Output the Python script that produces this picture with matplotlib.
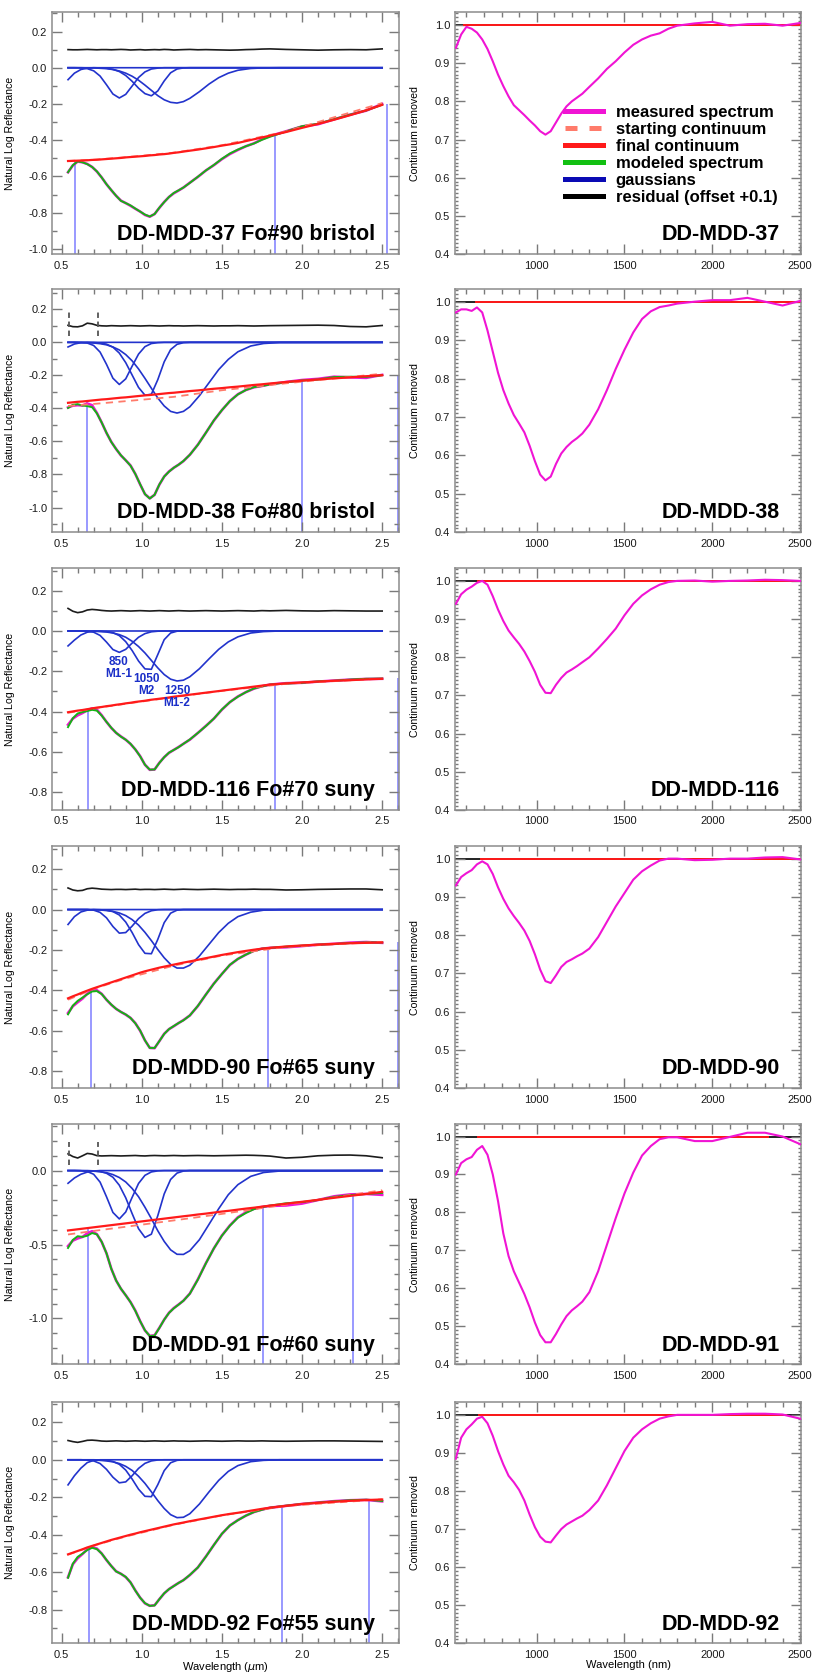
import numpy as np
import matplotlib
matplotlib.use("Agg")
import matplotlib.pyplot as plt
from matplotlib.lines import Line2D
from matplotlib.ticker import MultipleLocator, FuncFormatter

plt.rcParams["font.family"] = ["Liberation Sans", "DejaVu Sans"]
plt.rcParams["axes.unicode_minus"] = False

# ---- wavelength grids (micron) ----
wl = [0.54, 0.57, 0.60, 0.63, 0.66, 0.69, 0.72, 0.75, 0.78, 0.81, 0.84, 0.87, 0.90, 0.93, 0.96,
      0.99, 1.02, 1.05, 1.08, 1.11, 1.14, 1.17, 1.20, 1.23, 1.26, 1.30, 1.35, 1.40, 1.45, 1.50,
      1.55, 1.60, 1.65, 1.70, 1.75, 1.80, 1.90, 2.00, 2.10, 2.20, 2.30, 2.40, 2.50]
wl_band = [0.54, 0.58, 0.62, 0.66, 0.70, 0.74, 0.78, 0.82, 0.86, 0.90, 0.94, 0.98, 1.02, 1.06,
           1.10, 1.14, 1.18, 1.22, 1.26, 1.30, 1.36, 1.42, 1.48, 1.54, 1.60, 1.68, 1.76, 1.86, 2.50]
wl_start = [0.54, 0.7, 0.9, 1.2, 1.5, 1.9, 2.5]

samples = ["DD-MDD-37", "DD-MDD-38", "DD-MDD-116", "DD-MDD-90", "DD-MDD-91", "DD-MDD-92"]
titles = ["DD-MDD-37 Fo#90 bristol", "DD-MDD-38 Fo#80 bristol", "DD-MDD-116 Fo#70 suny",
          "DD-MDD-90 Fo#65 suny", "DD-MDD-91 Fo#60 suny", "DD-MDD-92 Fo#55 suny"]

# ---- DD-MDD-37 ----
cr37 = [0.940, 0.975, 0.995, 0.990, 0.980, 0.962, 0.937, 0.905, 0.870, 0.840, 0.813, 0.790, 0.777,
        0.764, 0.750, 0.737, 0.722, 0.713, 0.722, 0.745, 0.768, 0.787, 0.800, 0.810, 0.820, 0.838,
        0.860, 0.885, 0.905, 0.928, 0.948, 0.962, 0.972, 0.978, 0.990, 0.998, 1.004, 1.008, 0.998,
        1.002, 1.003, 0.998, 1.005]
cont37 = [-0.515, -0.514, -0.513, -0.512, -0.511, -0.509, -0.508, -0.506, -0.504, -0.502, -0.500,
          -0.498, -0.495, -0.493, -0.491, -0.489, -0.487, -0.484, -0.482, -0.479, -0.477, -0.474,
          -0.470, -0.467, -0.463, -0.458, -0.452, -0.445, -0.438, -0.430, -0.423, -0.415, -0.405,
          -0.395, -0.385, -0.375, -0.355, -0.332, -0.310, -0.287, -0.262, -0.235, -0.205]
res37 = [0.000, -0.001, -0.001, 0.000, 0.001, 0.000, -0.001, 0.000, 0.000, -0.001, 0.000, 0.001,
         0.000, -0.002, -0.001, 0.000, -0.002, -0.001, 0.000, -0.001, 0.001, 0.000, -0.002, -0.001,
         0.000, 0.001, -0.001, 0.000, -0.001, -0.002, -0.003, -0.002, 0.000, 0.001, 0.003, 0.004,
         0.001, -0.001, -0.003, -0.001, 0.000, -0.001, 0.004]
start37 = [-0.515, -0.508, -0.494, -0.469, -0.428, -0.352, -0.195]
tie37_x = [0.584, 1.832, 2.529]
tie37_y = [-0.513, -0.372, -0.198]
uv37 = [-0.066, -0.030, -0.010, -0.002] + [0.0] * 25
b850_37 = [0.0, 0.0, -0.001, -0.005, -0.017, -0.046, -0.094, -0.145, -0.167, -0.147, -0.101,
           -0.054, -0.023, -0.007, -0.002] + [0.0] * 14
b1050_37 = [0.0] * 5 + [-0.001, -0.003, -0.009, -0.021, -0.043, -0.075, -0.113, -0.143, -0.155,
                        -0.128, -0.073, -0.028, -0.007, -0.001] + [0.0] * 10
b1250_37 = [0.0, 0.0, 0.0, -0.001, -0.001, -0.003, -0.005, -0.010, -0.018, -0.030, -0.047, -0.069,
            -0.096, -0.125, -0.154, -0.177, -0.191, -0.195, -0.187, -0.169, -0.132, -0.090, -0.055,
            -0.030, -0.014, -0.004, -0.001, 0.0, 0.0]

# ---- DD-MDD-38 ----
cr38 = [0.972, 0.980, 0.980, 0.976, 0.985, 0.972, 0.925, 0.870, 0.815, 0.770, 0.735, 0.705, 0.683,
        0.660, 0.625, 0.585, 0.550, 0.535, 0.545, 0.578, 0.605, 0.622, 0.635, 0.645, 0.657, 0.680,
        0.720, 0.770, 0.825, 0.875, 0.920, 0.955, 0.975, 0.986, 0.990, 0.995, 1.000, 1.004, 1.004,
        1.010, 1.000, 0.990, 1.002]
cont38 = [-0.366, -0.363, -0.360, -0.358, -0.355, -0.352, -0.349, -0.346, -0.344, -0.341, -0.338,
          -0.335, -0.333, -0.330, -0.327, -0.324, -0.321, -0.319, -0.316, -0.313, -0.310, -0.307,
          -0.305, -0.302, -0.299, -0.295, -0.291, -0.286, -0.281, -0.277, -0.272, -0.268, -0.263,
          -0.258, -0.254, -0.249, -0.240, -0.232, -0.225, -0.218, -0.212, -0.205, -0.199]
res38 = [0.003, -0.005, -0.006, 0.000, 0.016, 0.012, 0.003, 0.000, -0.001, 0.001, 0.000, -0.001,
         0.000, 0.001, 0.000, -0.001, 0.000, 0.001, 0.000, -0.001, 0.000, 0.001, 0.000, 0.000,
         -0.001, 0.000, 0.001, 0.000, -0.001, 0.000, 0.000, 0.001, 0.000, -0.001, 0.000, 0.001,
         0.002, 0.003, 0.004, 0.002, -0.004, -0.006, 0.002]
start38 = [-0.385, -0.373, -0.356, -0.330, -0.290, -0.248, -0.190]
tie38_x = [0.656, 2.0, 2.6]
tie38_y = [-0.355, -0.232, -0.196]
uv38 = [-0.028, -0.010, -0.002] + [0.0] * 26
b850_38 = [0.0, 0.0, -0.001, -0.004, -0.019, -0.059, -0.133, -0.217, -0.255, -0.221, -0.144,
           -0.071, -0.026, -0.007, -0.002] + [0.0] * 14
b1050_38 = [0.0] * 4 + [-0.001, -0.004, -0.011, -0.029, -0.065, -0.123, -0.198, -0.273, -0.320,
                        -0.314, -0.226, -0.118, -0.044, -0.012, -0.002] + [0.0] * 10
b1250_38 = [0.0, 0.0, -0.001, -0.002, -0.004, -0.008, -0.015, -0.028, -0.046, -0.074, -0.112,
            -0.161, -0.218, -0.278, -0.337, -0.385, -0.418, -0.428, -0.418, -0.390, -0.323, -0.244,
            -0.165, -0.103, -0.057, -0.022, -0.007, -0.001, 0.0]

# ---- DD-MDD-116 ----
cr116 = [0.940, 0.965, 0.977, 0.985, 0.995, 1.000, 0.990, 0.960, 0.925, 0.895, 0.870, 0.852, 0.835,
         0.815, 0.790, 0.762, 0.728, 0.707, 0.706, 0.728, 0.746, 0.760, 0.768, 0.777, 0.787, 0.800,
         0.823, 0.848, 0.875, 0.910, 0.940, 0.962, 0.978, 0.990, 0.997, 1.000, 1.001, 0.998, 1.000,
         1.001, 1.003, 1.002, 1.000]
cont116 = [-0.403, -0.399, -0.395, -0.392, -0.388, -0.384, -0.380, -0.377, -0.373, -0.370, -0.366,
           -0.363, -0.359, -0.356, -0.352, -0.349, -0.346, -0.342, -0.339, -0.336, -0.333, -0.330,
           -0.326, -0.323, -0.320, -0.316, -0.311, -0.306, -0.301, -0.296, -0.291, -0.286, -0.281,
           -0.276, -0.271, -0.266, -0.260, -0.255, -0.251, -0.247, -0.244, -0.240, -0.237]
res116 = [0.012, -0.002, -0.009, -0.005, 0.004, 0.007, 0.005, 0.002, 0.000, -0.001, 0.000, 0.001,
          0.000, -0.001, 0.000, 0.001, 0.000, -0.001, 0.000, 0.001, 0.000, -0.001, 0.000, 0.001,
          0.000, -0.001, 0.000, 0.001, 0.000, -0.001, 0.000, 0.001, 0.000, -0.001, 0.001, 0.000,
          0.002, 0.000, -0.001, 0.001, 0.000, -0.001, -0.001]
start116 = [-0.406, -0.384, -0.361, -0.328, -0.297, -0.262, -0.236]
tie116_x = [0.667, 1.832, 2.6]
tie116_y = [-0.386, -0.264, -0.235]
uv116 = [-0.074, -0.045, -0.020, -0.006, -0.001] + [0.0] * 24
b850_116 = [0.0, 0.0, 0.0, -0.001, -0.006, -0.022, -0.055, -0.092, -0.106, -0.091, -0.060,
            -0.031, -0.013, -0.004, -0.001] + [0.0] * 14
b1050_116 = [0.0] * 5 + [-0.001, -0.003, -0.008, -0.023, -0.053, -0.097, -0.149, -0.188, -0.190,
                         -0.117, -0.043, -0.010, -0.001, 0.0] + [0.0] * 10
b1250_116 = [0.0, 0.0, 0.0, -0.001, -0.001, -0.003, -0.005, -0.010, -0.018, -0.031, -0.051,
             -0.077, -0.109, -0.146, -0.183, -0.216, -0.239, -0.248, -0.244, -0.227, -0.187,
             -0.138, -0.091, -0.054, -0.029, -0.010, -0.003, 0.0, 0.0]

# ---- DD-MDD-90 ----
cr90 = [0.930, 0.952, 0.962, 0.970, 0.985, 0.993, 0.985, 0.960, 0.925, 0.895, 0.870, 0.850, 0.832,
        0.812, 0.785, 0.750, 0.710, 0.680, 0.675, 0.695, 0.717, 0.730, 0.737, 0.745, 0.752, 0.765,
        0.795, 0.835, 0.875, 0.910, 0.945, 0.967, 0.982, 0.995, 1.000, 1.000, 0.996, 0.997, 1.000,
        1.000, 1.003, 1.004, 0.998]
cont90 = [-0.440, -0.430, -0.421, -0.411, -0.402, -0.393, -0.385, -0.377, -0.369, -0.361, -0.353,
          -0.345, -0.337, -0.329, -0.321, -0.313, -0.306, -0.300, -0.294, -0.288, -0.283, -0.278,
          -0.273, -0.268, -0.263, -0.257, -0.249, -0.241, -0.233, -0.225, -0.218, -0.211, -0.205,
          -0.199, -0.194, -0.190, -0.183, -0.178, -0.174, -0.170, -0.167, -0.165, -0.163]
res90 = [0.007, -0.003, -0.007, -0.005, 0.003, 0.006, 0.004, 0.001, 0.000, -0.001, 0.000, 0.000,
         -0.001, 0.000, 0.001, -0.001, 0.000, 0.000, -0.001, 0.000, 0.001, 0.000, -0.001, 0.000,
         0.001, 0.000, -0.001, 0.000, 0.001, 0.000, -0.001, 0.000, 0.000, 0.001, 0.000, 0.000,
         -0.003, -0.002, 0.000, 0.001, 0.002, 0.002, -0.002]
start90 = [-0.447, -0.393, -0.342, -0.278, -0.228, -0.185, -0.160]
tie90_x = [0.681, 1.79, 2.6]
tie90_y = [-0.392, -0.190, -0.163]
uv90 = [-0.074, -0.035, -0.012, -0.003] + [0.0] * 25
b850_90 = [0.0, 0.0, 0.0, 0.0, -0.003, -0.014, -0.041, -0.084, -0.117, -0.114, -0.082, -0.045,
           -0.019, -0.006, -0.001] + [0.0] * 14
b1050_90 = [0.0] * 5 + [-0.001, -0.003, -0.010, -0.027, -0.062, -0.114, -0.174, -0.217, -0.219,
                        -0.148, -0.065, -0.018, -0.003, 0.0] + [0.0] * 10
b1250_90 = [0.0, 0.0, 0.0, 0.0, -0.001, -0.002, -0.005, -0.009, -0.017, -0.030, -0.050, -0.077,
            -0.113, -0.154, -0.198, -0.239, -0.272, -0.290, -0.290, -0.276, -0.230, -0.172, -0.114,
            -0.068, -0.035, -0.013, -0.003, -0.001, 0.0]

# ---- DD-MDD-91 ----
cr91 = [0.900, 0.930, 0.940, 0.946, 0.965, 0.975, 0.952, 0.900, 0.830, 0.745, 0.685, 0.645, 0.615,
        0.585, 0.550, 0.510, 0.477, 0.458, 0.458, 0.480, 0.505, 0.527, 0.542, 0.553, 0.565, 0.590,
        0.645, 0.715, 0.785, 0.850, 0.905, 0.950, 0.975, 0.993, 0.998, 0.998, 0.988, 0.988, 0.999,
        1.010, 1.010, 1.000, 0.980]
cont91 = [-0.405, -0.401, -0.397, -0.393, -0.389, -0.385, -0.381, -0.377, -0.373, -0.369, -0.365,
          -0.361, -0.357, -0.353, -0.349, -0.345, -0.341, -0.337, -0.333, -0.329, -0.325, -0.321,
          -0.317, -0.313, -0.309, -0.304, -0.297, -0.291, -0.284, -0.277, -0.271, -0.264, -0.257,
          -0.251, -0.244, -0.237, -0.224, -0.211, -0.198, -0.184, -0.171, -0.158, -0.144]
res91 = [0.013, -0.005, -0.015, 0.000, 0.016, 0.012, 0.001, -0.001, 0.000, 0.001, 0.000, -0.001,
         0.000, 0.001, 0.002, 0.000, -0.001, 0.001, 0.002, 0.001, 0.000, 0.001, 0.002, 0.001,
         0.000, 0.001, 0.002, 0.001, 0.000, 0.001, 0.002, 0.003, 0.004, 0.003, 0.001, -0.002,
         -0.015, -0.010, 0.000, 0.004, 0.005, 0.000, -0.013]
start91 = [-0.432, -0.408, -0.380, -0.337, -0.293, -0.230, -0.133]
tie91_x = [0.667, 1.759, 2.315]
tie91_y = [-0.388, -0.243, -0.170]
uv91 = [-0.086, -0.050, -0.025, -0.010, -0.003] + [0.0] * 24
b850_91 = [0.0, 0.0, -0.001, -0.006, -0.025, -0.078, -0.177, -0.283, -0.327, -0.280, -0.181,
           -0.087, -0.032, -0.009, -0.002] + [0.0] * 14
b1050_91 = [0.0] * 4 + [-0.002, -0.006, -0.018, -0.045, -0.099, -0.184, -0.291, -0.393, -0.452,
                        -0.430, -0.305, -0.158, -0.060, -0.017, -0.003] + [0.0] * 10
b1250_91 = [0.0, 0.0, -0.001, -0.002, -0.004, -0.008, -0.014, -0.027, -0.047, -0.077, -0.121,
            -0.177, -0.248, -0.325, -0.407, -0.479, -0.536, -0.566, -0.567, -0.542, -0.467, -0.363,
            -0.258, -0.163, -0.095, -0.039, -0.013, -0.003, 0.0]

# ---- DD-MDD-92 ----
cr92 = [0.885, 0.940, 0.962, 0.975, 0.990, 0.995, 0.978, 0.945, 0.905, 0.870, 0.840, 0.823, 0.803,
        0.775, 0.738, 0.705, 0.680, 0.667, 0.665, 0.683, 0.700, 0.712, 0.720, 0.728, 0.735, 0.750,
        0.775, 0.815, 0.860, 0.905, 0.940, 0.962, 0.978, 0.990, 0.996, 1.000, 1.000, 1.000, 1.002,
        1.003, 1.003, 1.001, 0.990]
cont92 = [-0.505, -0.496, -0.487, -0.478, -0.468, -0.460, -0.452, -0.444, -0.436, -0.428, -0.421,
          -0.414, -0.407, -0.400, -0.394, -0.387, -0.381, -0.375, -0.369, -0.363, -0.357, -0.351,
          -0.345, -0.340, -0.335, -0.328, -0.320, -0.312, -0.304, -0.296, -0.289, -0.283, -0.276,
          -0.269, -0.262, -0.256, -0.246, -0.236, -0.230, -0.224, -0.219, -0.215, -0.212]
res92 = [0.003, -0.003, -0.007, -0.002, 0.004, 0.005, 0.003, 0.000, -0.001, 0.000, 0.001, 0.000,
         -0.001, 0.000, 0.001, 0.000, -0.001, 0.000, 0.001, 0.000, -0.001, 0.000, 0.001, 0.000,
         0.000, -0.001, 0.000, 0.001, 0.000, -0.001, 0.000, 0.001, 0.000, 0.000, 0.001, 0.000,
         -0.001, 0.000, 0.001, 0.001, 0.000, -0.001, -0.002]
start92 = [-0.507, -0.458, -0.410, -0.347, -0.297, -0.247, -0.211]
tie92_x = [0.673, 1.874, 2.419]
tie92_y = [-0.464, -0.248, -0.214]
uv92 = [-0.134, -0.085, -0.045, -0.015, -0.003] + [0.0] * 24
b850_92 = [0.0, 0.0, 0.0, -0.001, -0.006, -0.020, -0.051, -0.093, -0.123, -0.118, -0.085, -0.046,
           -0.019, -0.006, -0.001] + [0.0] * 14
b1050_92 = [0.0] * 5 + [-0.001, -0.003, -0.009, -0.024, -0.055, -0.103, -0.157, -0.195, -0.197,
                        -0.133, -0.058, -0.016, -0.003, 0.0] + [0.0] * 10
b1250_92 = [0.0, 0.0, 0.0, -0.001, -0.001, -0.003, -0.006, -0.011, -0.020, -0.035, -0.057, -0.088,
            -0.126, -0.171, -0.218, -0.260, -0.293, -0.309, -0.307, -0.288, -0.236, -0.171, -0.110,
            -0.062, -0.031, -0.010, -0.003, 0.0, 0.0]

# band-centre labels on the DD-MDD-116 fit
band_names = ["850\nM1-1", "1050\nM2", "1250\nM1-2"]
band_name_dx = [-0.005, -0.03, 0.0]
# dashed markers at the short-wavelength fit window
window_edges = [0.548, 0.729]

panels = [
    dict(cr=cr37, cont=cont37, res=res37, start=start37, tx=tie37_x, ty=tie37_y,
         bands=[uv37, b850_37, b1050_37, b1250_37], ylim=(-1.03, 0.306), ystep=0.2, window=False),
    dict(cr=cr38, cont=cont38, res=res38, start=start38, tx=tie38_x, ty=tie38_y,
         bands=[uv38, b850_38, b1050_38, b1250_38], ylim=(-1.15, 0.323), ystep=0.2, window=True),
    dict(cr=cr116, cont=cont116, res=res116, start=start116, tx=tie116_x, ty=tie116_y,
         bands=[uv116, b850_116, b1050_116, b1250_116], ylim=(-0.888, 0.311), ystep=0.2, window=False),
    dict(cr=cr90, cont=cont90, res=res90, start=start90, tx=tie90_x, ty=tie90_y,
         bands=[uv90, b850_90, b1050_90, b1250_90], ylim=(-0.886, 0.315), ystep=0.2, window=False),
    dict(cr=cr91, cont=cont91, res=res91, start=start91, tx=tie91_x, ty=tie91_y,
         bands=[uv91, b850_91, b1050_91, b1250_91], ylim=(-1.31, 0.315), ystep=0.5, window=True),
    dict(cr=cr92, cont=cont92, res=res92, start=start92, tx=tie92_x, ty=tie92_y,
         bands=[uv92, b850_92, b1050_92, b1250_92], ylim=(-0.98, 0.307), ystep=0.2, window=False),
]

MAG = "#f014d4"
RED = "#ff1a1a"
SALMON = "#ff7b6b"
GREEN = "#14b414"
BLUE = "#2233cc"
TIE = "#7d7dff"
FRAME = "#8c8c8c"

W, H = 813, 1673
tops = [12.3, 289, 568.3, 846, 1124, 1402.3]
bottoms = [254.3, 532.3, 810, 1088.3, 1364.3, 1643.3]

fig = plt.figure(figsize=(W / 100, H / 100), dpi=100)

wl_arr = np.array(wl)
wl_nm = wl_arr * 1000


def fmt1(v, pos):
    s = f"{v:.1f}"
    return "0.0" if s == "-0.0" else s


def frame(ax, xmaj, xmin, ymaj, ymin, ymin_len):
    ax.xaxis.set_major_locator(MultipleLocator(xmaj))
    ax.xaxis.set_minor_locator(MultipleLocator(xmin))
    ax.yaxis.set_major_locator(MultipleLocator(ymaj))
    ax.yaxis.set_minor_locator(MultipleLocator(ymin))
    ax.tick_params(which="both", direction="in", top=True, right=True,
                   color="#7a7a7a", labelcolor="#1a1a1a", labelsize=8, width=1.0)
    ax.tick_params(which="major", length=7, pad=3.5)
    ax.tick_params(axis="x", which="major", pad=4.5)
    ax.tick_params(axis="x", which="minor", length=3.5)
    ax.tick_params(axis="y", which="minor", length=ymin_len)
    for s in ax.spines.values():
        s.set_color(FRAME)
        s.set_linewidth(1.1)


for i, p in enumerate(panels):
    y0 = 1 - bottoms[i] / H
    h = (bottoms[i] - tops[i]) / H
    axl = fig.add_axes([52 / W, y0, 347 / W, h])
    axr = fig.add_axes([455 / W, y0, 346 / W, h])

    cont = np.array(p["cont"])
    cr = np.array(p["cr"])
    res = np.array(p["res"])
    meas = cont + np.log(cr)
    model = meas - res

    # left: natural-log reflectance with MGM fit
    for b in p["bands"]:
        axl.plot(wl_band, b, color=BLUE, lw=1.2, zorder=2)
    axl.plot(wl_arr, res + 0.1, color="#1c1c1c", lw=1.2, zorder=2)
    axl.vlines(p["tx"], p["ylim"][0], p["ty"], color=TIE, lw=1.1, zorder=1)
    axl.plot(wl_arr, meas, color=MAG, lw=1.9, zorder=3)
    axl.plot(wl_arr, model, color=GREEN, lw=1.4, zorder=4)
    axl.plot(wl_start, p["start"], color=SALMON, lw=1.3, ls=(0, (4, 3)), zorder=4)
    axl.plot(wl_arr, cont, color=RED, lw=1.6, zorder=5)
    if p["window"]:
        axl.vlines(window_edges, 0.04, 0.19, color="#555555", lw=1.3, ls=(0, (3, 2)), zorder=3)
    if i == 2:
        for k, name in enumerate(band_names):
            b = np.array(p["bands"][k + 1])
            j = int(np.argmin(b))
            axl.text(wl_band[j] + band_name_dx[k], b[j] - 0.018, name, color="#1b2fc8",
                     fontsize=8.5, fontweight="bold", ha="center", va="top",
                     linespacing=1.0, zorder=6)

    axl.set_xlim(0.44, 2.605)
    axl.set_ylim(*p["ylim"])
    frame(axl, 0.5, 0.1, p["ystep"], 0.1, 3.5)
    axl.xaxis.set_major_formatter(FuncFormatter(fmt1))
    axl.yaxis.set_major_formatter(FuncFormatter(fmt1))
    axl.set_ylabel("Natural Log Reflectance", fontsize=7.6)
    axl.yaxis.set_label_coords(-0.107, 0.5)
    axl.text(0.93, 0.08, titles[i], transform=axl.transAxes, ha="right", va="center",
             fontsize=15.5, fontweight="bold", zorder=7)

    # right: continuum-removed spectrum
    axr.axhline(1.0, color="#111111", lw=1.3, zorder=1)
    axr.plot([p["tx"][0] * 1000, min(p["tx"][-1], 2.5) * 1000], [1.0, 1.0], color=RED, lw=1.4, zorder=2)
    axr.plot(wl_nm, cr, color=MAG, lw=1.5, zorder=3)
    axr.set_xlim(535, 2505)
    axr.set_ylim(0.4, 1.033)
    frame(axr, 500, 100, 0.1, 0.01, 2.5)
    axr.yaxis.set_major_formatter(FuncFormatter(fmt1))
    axr.set_ylabel("Continuum removed", fontsize=7.6)
    axr.yaxis.set_label_coords(-0.101, 0.5)
    axr.text(0.94, 0.08, samples[i], transform=axr.transAxes, ha="right", va="center",
             fontsize=15.5, fontweight="bold", zorder=7)

    if i == 0:
        handles = [
            Line2D([], [], color=MAG, lw=3.6),
            Line2D([], [], color=SALMON, lw=3.6, ls=(0, (2.4, 2.4))),
            Line2D([], [], color=RED, lw=3.6),
            Line2D([], [], color="#12c012", lw=3.6),
            Line2D([], [], color="#0a0ab4", lw=3.6),
            Line2D([], [], color="#000000", lw=3.6),
        ]
        labels = ["measured spectrum", "starting continuum", "final continuum",
                  "modeled spectrum", "gaussians", "residual (offset +0.1)"]
        axr.legend(handles, labels, loc="upper left", bbox_to_anchor=(0.318, 0.618),
                   frameon=False, prop=dict(weight="bold", size=12), handlelength=2.3,
                   handletextpad=0.75, labelspacing=0.12, borderaxespad=0, borderpad=0)

    if i == len(panels) - 1:
        axl.set_xlabel(r"Wavelength ($\mu$m)", fontsize=8, labelpad=0.5)
        axr.set_xlabel("Wavelength (nm)", fontsize=8, labelpad=0.5)

fig.savefig("out.png", dpi=100)
